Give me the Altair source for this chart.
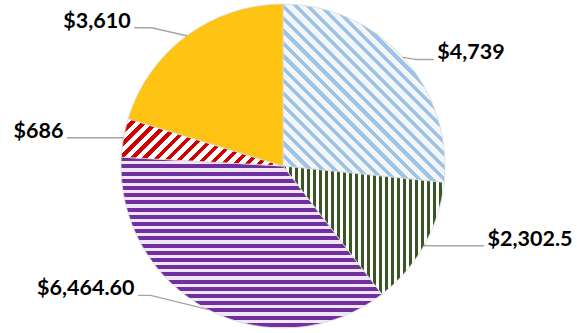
import math
import altair as alt
import pandas as pd

# ---- data ----
labels = ["$4,739", "$2,302.5", "$6,464.60", "$686", "$3,610"]
values = [4739, 2302.5, 6464.60, 686, 3610]
order = [0, 1, 2, 3, 4]

# ---- layout / style ----
CX, CY, R = 283, 166, 162
FONT_SIZE = 21.5

slice_style = {
    "$4,739": dict(kind="down", c1="#9DC3E6", c2="#F3F5F7", frac=0.42, period=8.8),
    "$2,302.5": dict(kind="v", c1="#385723", c2="#FFFFFF", frac=0.5, period=6.0),
    "$6,464.60": dict(kind="h", c1="#7030A0", c2="#F1E6F7", frac=0.55, period=7.2),
    "$686": dict(kind="up", c1="#D00000", c2="#FFFFFF", frac=0.45, period=8.5),
    "$3,610": dict(kind="solid", c1="#FFC313"),
}
# leader: elbow dx, elbow dy, end dx, end dy, side (+1 label right, -1 label left)
leader = {
    "$4,739": (12, 2, 30, 2, 1),
    "$2,302.5": (0, 1, 59, 1, 1),
    "$6,464.60": (-57, -14, -69, -14, -1),
    "$686": (0, 0, -56, 0, -1),
    "$3,610": (-35, -8, -52, -8, -1),
}


def slice_bbox(a0, a1):
    pts = [(0.0, 0.0), (R * math.sin(a0), -R * math.cos(a0)), (R * math.sin(a1), -R * math.cos(a1))]
    for k in range(5):
        a = k * math.pi / 2
        if a0 < a < a1:
            pts.append((R * math.sin(a), -R * math.cos(a)))
    xs = [p[0] for p in pts]
    ys = [p[1] for p in pts]
    return max(xs) - min(xs), max(ys) - min(ys)


def make_fill(st, W, H):
    if st["kind"] == "solid":
        return st["c1"]
    kind = st["kind"]
    if kind == "h":
        p1, p2, L = (0, 0), (0, 1), H
    elif kind == "v":
        p1, p2, L = (0, 0), (1, 0), W
    else:
        k = (W + H) / (W * W + H * H)
        L = (W + H) / math.sqrt(2)
        if kind == "up":
            p1, p2 = (0, 0), (k * W, k * H)
        else:
            p1, p2 = (0, 1), (k * W, 1 - k * H)
    n = L / st["period"]
    stops = []
    i = 0
    while i / n < 1:
        o0 = i / n
        o1 = min((i + st["frac"]) / n, 1)
        o2 = min((i + 1) / n, 1)
        stops += [
            {"offset": o0, "color": st["c1"]},
            {"offset": o1, "color": st["c1"]},
            {"offset": o1, "color": st["c2"]},
            {"offset": o2, "color": st["c2"]},
        ]
        i += 1
    return {"gradient": "linear", "x1": p1[0], "y1": p1[1], "x2": p2[0], "y2": p2[1], "stops": stops}


total = sum(values)
fills = {}
cum = 0.0
for lab, v in zip(labels, values):
    a0 = 2 * math.pi * cum / total
    cum += v
    a1 = 2 * math.pi * cum / total
    W, H = slice_bbox(a0, a1)
    fills[lab] = make_fill(slice_style[lab], W, H)

df = pd.DataFrame({
    "label": labels,
    "value": values,
    "order": order,
    "edx": [leader[l][0] for l in labels],
    "edy": [leader[l][1] for l in labels],
    "ldx": [leader[l][2] for l in labels],
    "ldy": [leader[l][3] for l in labels],
    "side": [leader[l][4] for l in labels],
})

base = (
    alt.Chart(df)
    .transform_joinaggregate(total="sum(value)")
    .transform_window(cum="sum(value)", sort=[alt.SortField("order")], frame=[None, 0])
    .transform_calculate(a0="2*PI*(datum.cum - datum.value)/datum.total")
    .transform_calculate(a1="2*PI*datum.cum/datum.total")
    .transform_calculate(am="(datum.a0 + datum.a1)/2")
    .transform_calculate(ex=f"{CX} + {R}*sin(datum.am)")
    .transform_calculate(ey=f"{CY} - {R}*cos(datum.am)")
    .transform_calculate(bx="datum.ex + datum.edx")
    .transform_calculate(by="datum.ey + datum.edy")
    .transform_calculate(lx="datum.ex + datum.ldx")
    .transform_calculate(ly="datum.ey + datum.ldy")
    .transform_calculate(tx="datum.lx + datum.side*4")
    .transform_calculate(ty="datum.ly - 6")
)

layers = []
for lab in labels:
    layers.append(
        base.transform_filter(alt.datum.label == lab)
        .mark_arc(radius=R, fill=fills[lab], stroke="#D9D9D9", strokeWidth=0.8)
        .encode(
            theta=alt.Theta("a0:Q", scale=None),
            theta2="a1:Q",
            x=alt.value(CX),
            y=alt.value(CY),
        )
    )

rule1 = base.mark_rule(color="#A6A6A6", strokeWidth=1.4, strokeCap="round").encode(
    x=alt.X("ex:Q", scale=None, axis=None),
    y=alt.Y("ey:Q", scale=None, axis=None),
    x2="bx:Q",
    y2="by:Q",
)
rule2 = base.mark_rule(color="#A6A6A6", strokeWidth=1.4, strokeCap="round").encode(
    x=alt.X("bx:Q", scale=None, axis=None),
    y=alt.Y("by:Q", scale=None, axis=None),
    x2="lx:Q",
    y2="ly:Q",
)

text_right = base.transform_filter(alt.datum.side > 0).mark_text(
    align="left", baseline="middle", font="Lato", fontWeight="bold", fontSize=FONT_SIZE, color="#000000"
).encode(
    x=alt.X("tx:Q", scale=None, axis=None),
    y=alt.Y("ty:Q", scale=None, axis=None),
    text="label:N",
)
text_left = base.transform_filter(alt.datum.side < 0).mark_text(
    align="right", baseline="middle", font="Lato", fontWeight="bold", fontSize=FONT_SIZE, color="#000000"
).encode(
    x=alt.X("tx:Q", scale=None, axis=None),
    y=alt.Y("ty:Q", scale=None, axis=None),
    text="label:N",
)

chart = (
    alt.layer(*layers, rule1, rule2, text_right, text_left)
    .properties(width=577, height=333, autosize=alt.AutoSizeParams(type="none"), padding=0, background="#FFFFFF")
    .configure_view(stroke=None)
)

chart.save("out.html", embed_options={"renderer": "svg", "actions": False})
